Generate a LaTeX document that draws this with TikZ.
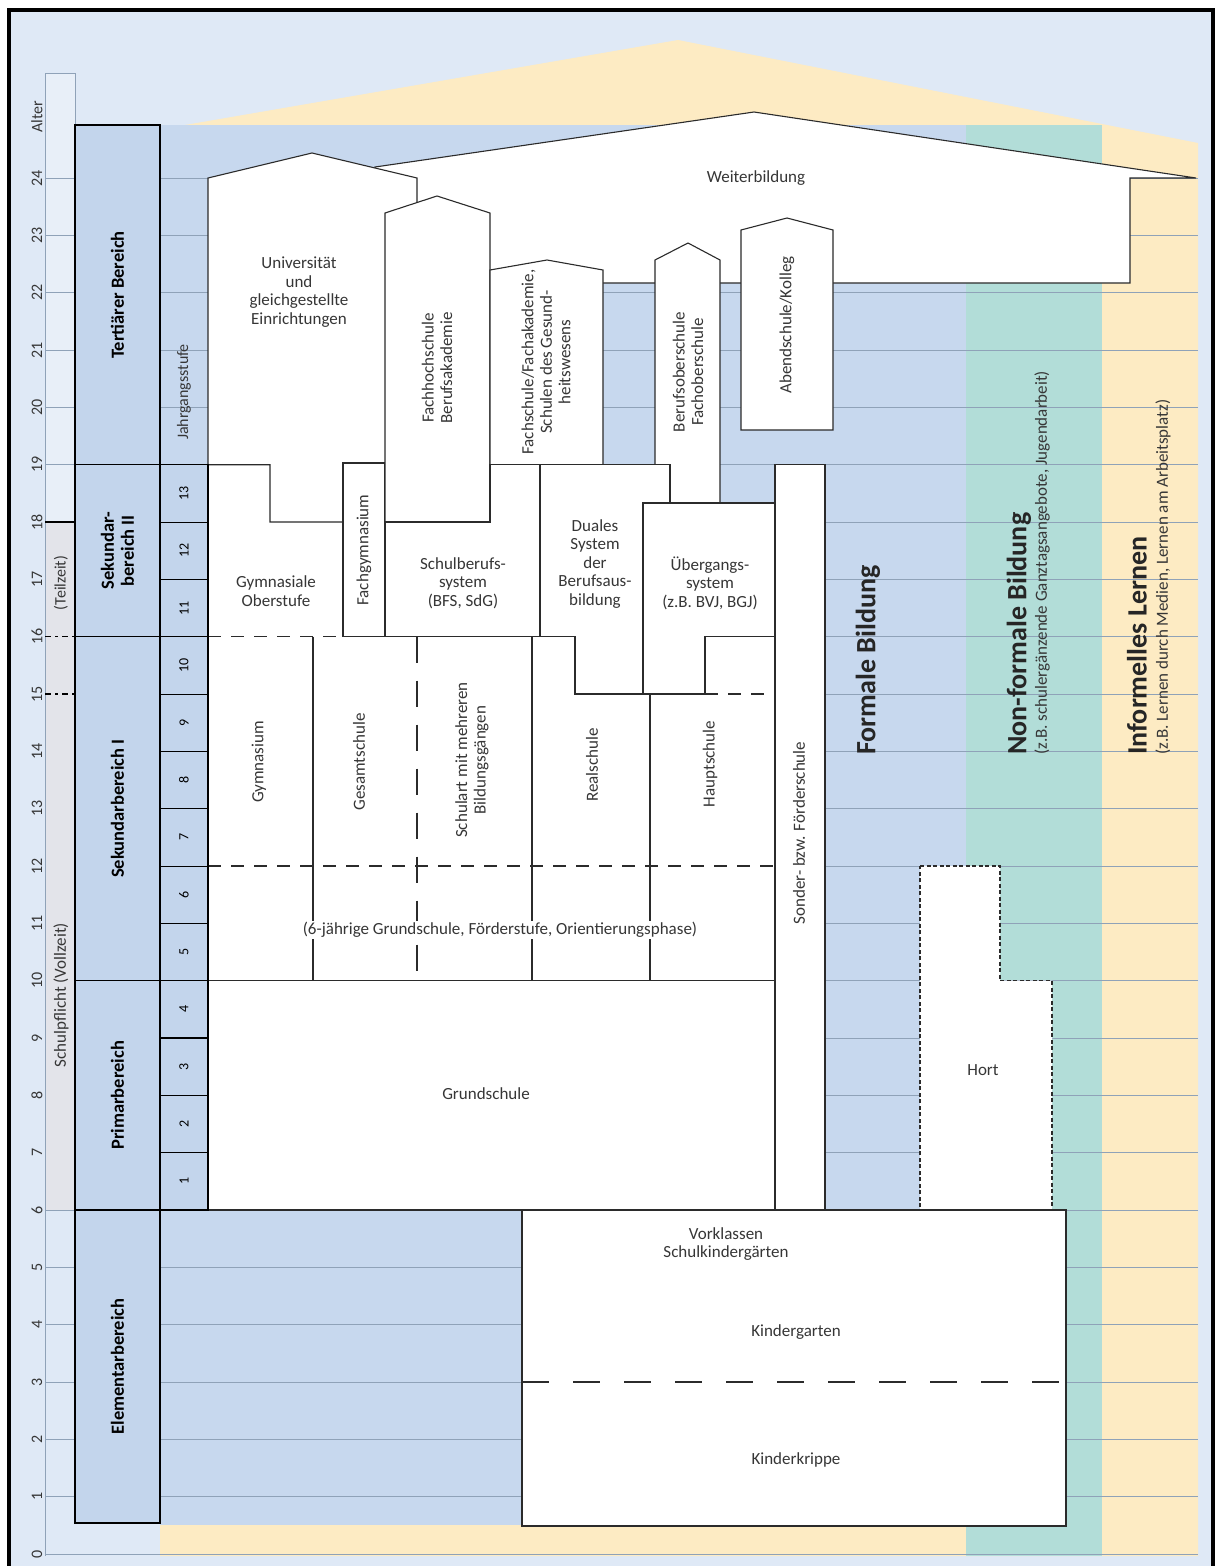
\documentclass[tikz,border=0pt]{standalone}
\usepackage{fontspec}
\setmainfont{Carlito}
\usepackage{tikz}

\definecolor{bgblue}{HTML}{DFE9F6}
\definecolor{formblue}{HTML}{C7D8EE}
\definecolor{areablue}{HTML}{C3D5EC}
\definecolor{nonteal}{HTML}{B2DDD8}
\definecolor{infyellow}{HTML}{FDEBC3}
\definecolor{gridgray}{HTML}{8FA2B8}
\definecolor{dutygray}{HTML}{E3E4EA}
\definecolor{striplight}{HTML}{E8EFF8}
\definecolor{boxline}{HTML}{2B2B2B}
\definecolor{textgray}{HTML}{363636}

\tikzset{
  schoolbox/.style={draw=boxline, fill=white, line width=1.1pt, line join=miter},
  areabox/.style={draw=black, fill=areablue, line width=1.4pt},
  gradebox/.style={draw=black, fill=areablue, line width=1.1pt},
  gridline/.style={draw=gridgray, line width=0.7pt},
  sepline/.style={draw=boxline, line width=1.1pt},
  shortdash/.style={draw=boxline, line width=1.1pt, dash pattern=on 13pt off 10pt},
  longdash/.style={draw=boxline, line width=1.1pt, dash pattern=on 26pt off 18pt},
  kitadash/.style={draw=boxline, line width=1.1pt, dash pattern=on 27pt off 24pt},
  dutydash/.style={draw=black, line width=1.2pt, dash pattern=on 6pt off 4pt on 3pt off 4pt},
  hortline/.style={draw=boxline, line width=1.3pt, dash pattern=on 4pt off 2.5pt, fill=white},
  schooltext/.style={font=\fontsize{17}{18.5}\selectfont, text=textgray, align=center, inner sep=1pt},
  vschooltext/.style={schooltext, rotate=90},
  areatext/.style={font=\bfseries\fontsize{18.5}{20}\selectfont, rotate=90, align=center},
  gradetext/.style={font=\fontsize{14}{16}\selectfont, rotate=90},
  agetext/.style={font=\fontsize{16}{18}\selectfont, text=textgray, rotate=90},
  bigtitle/.style={font=\bfseries\fontsize{28}{30}\selectfont, text=black!85, rotate=90, anchor=west, inner sep=0pt},
  subtitle/.style={font=\fontsize{17}{19}\selectfont, text=textgray, rotate=90, anchor=west, inner sep=0pt},
}

\begin{document}
\begin{tikzpicture}[x=1pt,y=-1pt]
    \useasboundingbox (0,0) rectangle (1221,1566);

    % Background and the three kinds of learning
    \fill[bgblue] (9,10) rectangle (1213,1566);
    \fill[infyellow] (185,125) -- (678,40) -- (1198,143) -- (1198,1556) -- (160,1556) -- (160,125) -- cycle;
    \fill[formblue] (160,125) rectangle (966,1525);
    \fill[nonteal] (966,125) rectangle (1102,1556);
    \fill[striplight] (45,73) rectangle (75,1210);

    % Age grid
    \foreach \a in {0,...,24}
        \draw[gridline] (45,{1554-57.33*\a}) -- (1198,{1554-57.33*\a});
    \draw[gridline] (45,73) -- (45,1556);
    \draw[gridline] (45,73) -- (75,73) -- (75,125);

    % Schulpflicht strip
    \fill[dutygray] (45,522) rectangle (75,1210);
    \draw[gridline] (45,522) -- (45,1210);
    \draw[black, line width=1.2pt] (45,522) -- (75,522);
    \draw[dutydash] (45,636.7) -- (75,636.7);
    \draw[dutydash] (45,694) -- (75,694);

    % Weiterbildung
    \draw[schoolbox] (375,167) -- (754,112) -- (1196,178) -- (1130,178) -- (1130,283) -- (375,283) -- cycle;

    % Tertiary boxes
    \fill[white] (208,464.7) rectangle (343,636.7);
    \draw[schoolbox] (270,464.7) -- (208,464.7) -- (208,178) -- (312,153) -- (417,178) -- (417,522) -- (270,522) -- cycle;
    \draw[schoolbox] (343,463) rectangle (385,636.7);
    \draw[schoolbox] (385,522) -- (385,213) -- (437,196) -- (490,213) -- (490,522) -- cycle;
    \draw[schoolbox] (490,464.7) -- (490,270) -- (547,260) -- (603,270) -- (603,464.7) -- cycle;
    \draw[schoolbox] (655,503) -- (655,260) -- (688,243) -- (720,260) -- (720,503) -- cycle;
    \draw[schoolbox] (741,430) -- (741,230) -- (787,218) -- (833,230) -- (833,430) -- cycle;

    % Secondary boxes
    \fill[white] (208,636.7) rectangle (775,980.7);
    \draw[schoolbox] (385,522) -- (490,522) -- (490,464.7) -- (540,464.7) -- (540,636.7) -- (385,636.7) -- cycle;
    \draw[schoolbox] (540,464.7) -- (670,464.7) -- (670,503) -- (643,503) -- (643,694) -- (575,694) -- (575,636.7) -- (540,636.7) -- cycle;
    \draw[schoolbox] (643,503) -- (775,503) -- (775,636.7) -- (705,636.7) -- (705,694) -- (643,694) -- cycle;
    \draw[shortdash] (208,636.7) -- (343,636.7);
    \draw[sepline] (313,636.7) -- (313,980.7);
    \draw[longdash] (417,636.7) -- (417,980.7);
    \draw[sepline] (532,636.7) -- (532,980.7);
    \draw[sepline] (650,694) -- (650,980.7);
    \draw[shortdash] (208,866) -- (775,866);
    \draw[shortdash] (705,694) -- (775,694);

    % Primary, special schools, Hort and elementary
    \draw[schoolbox] (208,980.7) rectangle (775,1210);
    \draw[schoolbox] (775,464.7) rectangle (825,1210);
    \draw[hortline] (920,866) -- (1000,866) -- (1000,980.7) -- (1052,980.7) -- (1052,1210) -- (920,1210) -- cycle;
    \draw[schoolbox] (522,1210) rectangle (1066,1526);
    \draw[kitadash] (522,1382) -- (1066,1382);

    % Bereich column
    \foreach \ya/\yb/\nm/\txt in {125/464.7/tertiaer/{Tertiärer Bereich},
        464.7/636.7/sekzwei/{Sekundar-\\bereich II},
        636.7/980.7/sekeins/{Sekundarbereich I},
        980.7/1210/primar/{Primarbereich},
        1210/1523/elementar/{Elementarbereich}} {
        \draw[areabox] (75,\ya) rectangle (160,\yb);
        \node[areatext] (\nm) at (117.5,{(\ya+\yb)/2}) {\txt};
    }

    % Jahrgangsstufen 1 to 13
    \foreach \g in {1,...,13} {
        \draw[gradebox] (160,{1554-57.33*(\g+5)}) rectangle (208,{1554-57.33*(\g+6)});
        \node[gradetext] (grade\g) at (184,{1554-57.33*(\g+5.5)}) {\g};
    }
    \node[agetext] (jahrgang) at (184,392) {Jahrgangsstufe};

    % Age labels
    \foreach \a in {0,...,24}
        \node[agetext] (age\a) at (37,{1554-57.33*\a}) {\a};
    \node[agetext] (alter) at (37,117) {Alter};
    \node[agetext, font=\fontsize{16}{18}\selectfont] (teilzeit) at (61,583) {(Teilzeit)};
    \node[agetext, font=\fontsize{17}{19}\selectfont] (vollzeit) at (61,995) {Schulpflicht (Vollzeit)};

    % Labels of the boxes
    \node[schooltext] (weiter) at (756,178) {Weiterbildung};
    \node[schooltext] (uni) at (299,292) {Universität\\und\\gleichgestellte\\Einrichtungen};
    \node[vschooltext] (fh) at (437,368) {Fachhochschule\\Berufsakademie};
    \node[vschooltext] (fs) at (546,362) {Fachschule/Fachakademie,\\Schulen des Gesund-\\heitswesens};
    \node[vschooltext] (bos) at (688,372) {Berufsoberschule\\Fachoberschule};
    \node[vschooltext] (abend) at (787,325) {Abendschule/Kolleg};
    \node[vschooltext] (fgym) at (364,550) {Fachgymnasium};
    \node[schooltext] (gymo) at (276,591) {Gymnasiale\\Oberstufe};
    \node[schooltext] (sbs) at (463,583) {Schulberufs-\\system\\(BFS, SdG)};
    \node[schooltext] (dual) at (595,564) {Duales\\System\\der\\Berufsaus-\\bildung};
    \node[schooltext] (ueber) at (710,583) {Übergangs-\\system\\(z.B. BVJ, BGJ)};
    \node[vschooltext] (gym) at (259,762) {Gymnasium};
    \node[vschooltext] (ges) at (359,762) {Gesamtschule};
    \node[vschooltext] (smb) at (472,760) {Schulart mit mehreren\\Bildungsgängen};
    \node[vschooltext] (real) at (592,765) {Realschule};
    \node[vschooltext] (haupt) at (710,764) {Hauptschule};
    \node[schooltext, fill=white] (orient) at (500,930) {(6-jährige Grundschule, Förderstufe, Orientierungsphase)};
    \node[schooltext] (grund) at (486,1094) {Grundschule};
    \node[vschooltext] (sonder) at (799,833) {Sonder- bzw. Förderschule};
    \node[schooltext] (hort) at (983,1070) {Hort};
    \node[schooltext] (vork) at (726,1244) {Vorklassen\\Schulkindergärten};
    \node[schooltext] (kiga) at (796,1332) {Kindergarten};
    \node[schooltext] (krippe) at (796,1460) {Kinderkrippe};

    % Titles of the three columns
    \node[bigtitle] (formal) at (868,755) {Formale Bildung};
    \node[bigtitle] (nonformal) at (1019,755) {Non-formale Bildung};
    \node[subtitle] (nonformalsub) at (1042,755) {(z.B. schulergänzende Ganztagsangebote, Jugendarbeit)};
    \node[bigtitle] (informal) at (1137,755) {Informelles Lernen};
    \node[subtitle] (informalsub) at (1163,755) {(z.B. Lernen durch Medien, Lernen am Arbeitsplatz)};

    % Frame
    \draw[black, line width=4pt] (9,10) rectangle (1213,1580);
\end{tikzpicture}
\end{document}
